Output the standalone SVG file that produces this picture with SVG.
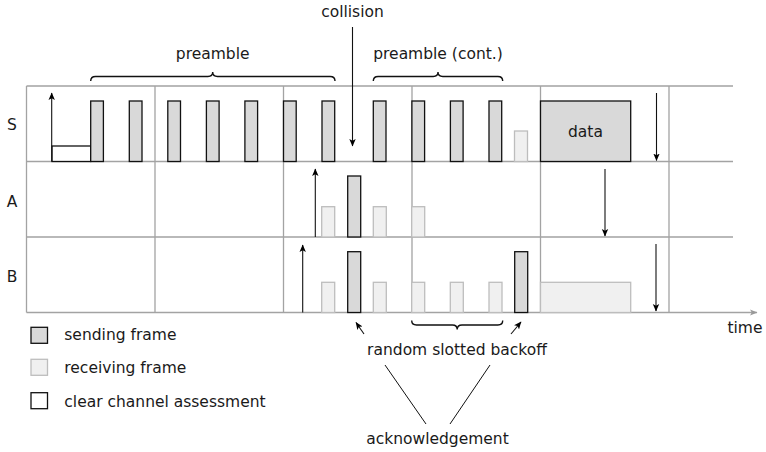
<svg xmlns="http://www.w3.org/2000/svg" width="766" height="452" viewBox="0 0 766 452">
<defs>
<marker id="ah" markerUnits="userSpaceOnUse" markerWidth="8" markerHeight="8" viewBox="0 0 8 8" refX="7" refY="4" orient="auto">
<path d="M0,0.8 L7.5,4 L0,7.2 L1.8,4 Z" fill="#000"/>
</marker>
<marker id="gah" markerUnits="userSpaceOnUse" markerWidth="8" markerHeight="8" viewBox="0 0 8 8" refX="7" refY="4" orient="auto">
<path d="M0,1 L7.5,4 L0,7 L1.8,4 Z" fill="#999"/>
</marker>
</defs>
<style>
text{font-family:"DejaVu Sans","Liberation Sans",sans-serif;font-size:15.5px;fill:#1a1a1a}
.grid{stroke:#a3a3a3;stroke-width:1.3;fill:none}
.snd{fill:#d9d9d9;stroke:#111;stroke-width:1.3}
.rcv{fill:#f0f0f0;stroke:#bdbdbd;stroke-width:1.3}
.cca{fill:#fff;stroke:#111;stroke-width:1.3}
.arr{stroke:#111;stroke-width:1.1;fill:none;marker-end:url(#ah)}
.ln{stroke:#111;stroke-width:1;fill:none}
.brace{stroke:#111;stroke-width:1.4;fill:none}
.mid{text-anchor:middle}
</style>
<g id="grid">
<path class="grid" d="M26.5,86 H733 M26.5,161.5 H733 M26.5,237 H733"/>
<path d="M26.5,312.5 H757" stroke="#a3a3a3" stroke-width="1.3" marker-end="url(#gah)"/>
<path class="grid" d="M26.5,86 V312.5 M155,86 V312.5 M283.5,86 V312.5 M412,86 V312.5 M540.5,86 V312.5 M669,86 V312.5"/>
</g>
<g id="labels">
<text x="12" y="130" class="mid">S</text>
<text x="12" y="206.5" class="mid">A</text>
<text x="12" y="281.5" class="mid">B</text>
<text x="745" y="333" class="mid">time</text>
</g>
<g id="node-S">
<rect class="cca" x="52" y="146" width="38.7" height="15.5"/>
<rect class="snd" x="90.7" y="101" width="12.7" height="60.5"/>
<rect class="snd" x="129.3" y="101" width="12.7" height="60.5"/>
<rect class="snd" x="167.8" y="101" width="12.7" height="60.5"/>
<rect class="snd" x="206.4" y="101" width="12.7" height="60.5"/>
<rect class="snd" x="244.9" y="101" width="12.7" height="60.5"/>
<rect class="snd" x="283.5" y="101" width="12.7" height="60.5"/>
<rect class="snd" x="322" y="101" width="12.7" height="60.5"/>
<rect class="snd" x="373.3" y="101" width="12.7" height="60.5"/>
<rect class="snd" x="411.9" y="101" width="12.7" height="60.5"/>
<rect class="snd" x="450.4" y="101" width="12.7" height="60.5"/>
<rect class="snd" x="489" y="101" width="12.7" height="60.5"/>
<rect class="rcv" x="514.5" y="131" width="13" height="30.5"/>
</g>
<g id="node-data">
<rect class="snd" x="540.5" y="101" width="90.2" height="60.5"/>
<text x="585.5" y="137" class="mid">data</text>
</g>
<g id="node-A">
<rect class="rcv" x="321.7" y="206.7" width="13" height="30.3"/>
<rect class="snd" x="347.7" y="176" width="13" height="61"/>
<rect class="rcv" x="373.3" y="206.7" width="13" height="30.3"/>
<rect class="rcv" x="411.7" y="206.7" width="13" height="30.3"/>
</g>
<g id="node-B">
<rect class="rcv" x="321.7" y="282.3" width="13" height="30.2"/>
<rect class="snd" x="347.7" y="251.7" width="13" height="60.8"/>
<rect class="rcv" x="373.3" y="282.3" width="13" height="30.2"/>
<rect class="rcv" x="411.7" y="282.3" width="13" height="30.2"/>
<rect class="rcv" x="450.3" y="282.3" width="13" height="30.2"/>
<rect class="rcv" x="489" y="282.3" width="13" height="30.2"/>
<rect class="snd" x="514.7" y="251.7" width="13" height="60.8"/>
<rect class="rcv" x="540.5" y="282.3" width="90.2" height="30.2"/>
</g>
<g id="annotations">
<text x="352.5" y="17" class="mid">collision</text>
<text x="212.7" y="59" class="mid">preamble</text>
<text x="438" y="59" class="mid">preamble (cont.)</text>
<text x="457" y="355" class="mid">random slotted backoff</text>
<text x="437.5" y="444" class="mid">acknowledgement</text>
<path class="brace" d="M90.7,81 Q90.7,76.5 95.5,76.5 L207.9,76.5 Q212.7,76.5 212.7,72 Q212.7,76.5 217.5,76.5 L330.2,76.5 Q335,76.5 335,81"/>
<path class="brace" d="M373.3,81 Q373.3,76.5 378.1,76.5 L433.2,76.5 Q438,76.5 438,72 Q438,76.5 442.8,76.5 L497.9,76.5 Q502.7,76.5 502.7,81"/>
<path class="brace" d="M411.7,320.5 Q411.7,325 416.5,325 L452.4,325 Q457.2,325 457.2,329.5 Q457.2,325 462,325 L497.9,325 Q502.7,325 502.7,320.5"/>
</g>
<g id="connectors">
<path class="arr" d="M51.7,161.5 V93"/>
<path class="arr" d="M352.5,27 V146"/>
<path class="arr" d="M656.5,93 V160.5"/>
<path class="arr" d="M315.3,237 V169"/>
<path class="arr" d="M605,169 V236"/>
<path class="arr" d="M302.7,312.5 V245"/>
<path class="arr" d="M656,244 V311"/>
<path class="arr" d="M364,334 L356,322.5"/>
<path class="arr" d="M511,334 L521,322"/>
<path class="ln" d="M385,365 L426,424 M490,365 L450,424"/>
</g>
<g id="legend">
<rect class="snd" x="31" y="327.3" width="16.5" height="16"/>
<rect class="rcv" x="31" y="359.3" width="16.5" height="16"/>
<rect class="cca" x="31" y="392.7" width="16.5" height="16"/>
<text x="64.3" y="340">sending frame</text>
<text x="64.3" y="372.5">receiving frame</text>
<text x="64.3" y="406.5">clear channel assessment</text>
</g>
</svg>
